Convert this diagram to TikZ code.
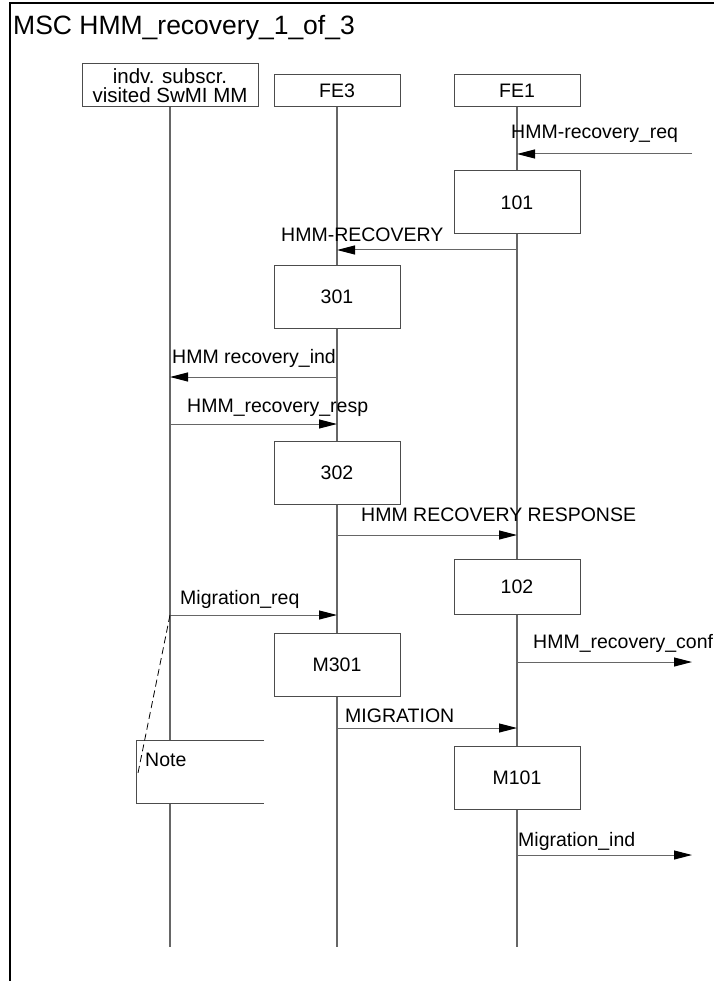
\documentclass[tikz,border=0pt]{standalone}
\usepackage{fontspec}
\setmainfont{Liberation Sans}
\usetikzlibrary{arrows.meta}

\colorlet{line gray}{black!60}
\colorlet{box edge}{black!70}
\tikzset{lbl/.style={anchor=base west, inner sep=0pt, font=\fontsize{19.5}{22}\selectfont},
    title/.style={anchor=base west, inner sep=0pt, font=\fontsize{26.5}{30}\selectfont},
    entity/.style={draw=box edge, fill=white, line width=1pt, minimum width=126pt,
        minimum height=32pt, inner sep=0pt, font=\fontsize{19.5}{22}\selectfont},
    action/.style={entity, minimum height=63pt},
    life/.style={draw=line gray, line width=1.2pt},
    msg/.style={draw=line gray, line width=1pt, -{Triangle[length=18pt, width=9pt, color=black]}}}

\begin{document}
\begin{tikzpicture}[x=1pt, y=-1pt]
        \useasboundingbox (0,0) rectangle (714,981);
        % Frame and title
        \draw[line width=1.5pt] (10,981) -- (10,3) -- (714,3);
        \node[title] (title) at (13,35) {MSC HMM\_recovery\_1\_of\_3};

        % Instances and lifelines
        \node[entity, minimum width=176pt, minimum height=43pt, align=center,
            font=\fontsize{20.5}{18.5}\selectfont] (mm) at (170,85.5) {indv. subscr.\\visited SwMI MM};
        \node[entity] (fe3) at (337,91) {FE3};
        \node[entity] (fe1) at (517,91) {FE1};
        \coordinate (bottom) at (0,947);
        \foreach \n in {mm,fe3,fe1}
            \draw[life] (\n.south) -- (\n |- bottom);

        % Actions
        \node[action] (a101) at (517,202.5) {101};
        \node[action] (a301) at (337,297) {301};
        \node[action] (a302) at (337,472.5) {302};
        \node[action, minimum height=55pt] (a102) at (517,586.5) {102};
        \node[action] (m301) at (337,665) {M301};
        \node[action] (m101) at (517,778) {M101};

        % Messages
        \coordinate (in1) at (692,154);
        \draw[msg] (in1) -- (in1 -| fe1);
        \node[lbl] (l1) at (511,139) {HMM-recovery\_req};

        \coordinate (y2) at (0,250);
        \draw[msg] (y2 -| fe1) -- (y2 -| fe3);
        \node[lbl] (l2) at (281,242) {HMM-RECOVERY};

        \coordinate (y3) at (0,377);
        \draw[msg] (y3 -| fe3) -- (y3 -| mm);
        \node[lbl] (l3) at (172,363) {HMM recovery\_ind};

        \coordinate (y4) at (0,424);
        \draw[msg] (y4 -| mm) -- (y4 -| fe3);
        \node[lbl] (l4) at (187,412) {HMM\_recovery\_resp};

        \coordinate (y5) at (0,535);
        \draw[msg] (y5 -| fe3) -- (y5 -| fe1);
        \node[lbl] (l5) at (361,521) {HMM RECOVERY RESPONSE};

        \coordinate (y6) at (0,615);
        \draw[msg] (y6 -| mm) -- (y6 -| fe3);
        \node[lbl] (l6) at (180,604) {Migration\_req};

        \coordinate (out7) at (692,662);
        \draw[msg] (out7 -| fe1) -- (out7);
        \node[lbl] (l7) at (533,648) {HMM\_recovery\_conf};

        \coordinate (y8) at (0,728);
        \draw[msg] (y8 -| fe3) -- (y8 -| fe1);
        \node[lbl] (l8) at (345,722) {MIGRATION};

        \coordinate (out9) at (692,855);
        \draw[msg] (out9 -| fe1) -- (out9);
        \node[lbl] (l9) at (518,846) {Migration\_ind};

        % Note
        \node[fill=white, minimum width=127pt, minimum height=62pt, inner sep=0pt] (note) at (200.5,772) {};
        \draw[box edge, line width=1pt] (note.north east) -- (note.north west) -- (note.south west) -- (note.south east);
        \node[lbl] (notetext) at (145,766) {Note};
        \coordinate (notepin) at (138,773);
        \draw[black, line width=0.8pt, dash pattern=on 7pt off 4pt] (y6 -| mm) -- (notepin);
    \end{tikzpicture}
\end{document}
